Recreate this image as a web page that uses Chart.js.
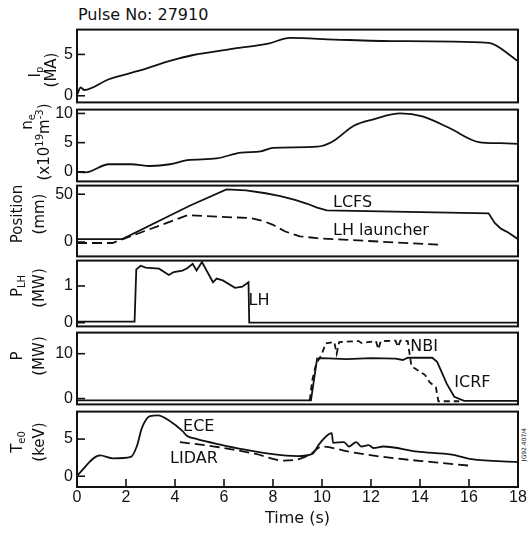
<!DOCTYPE html>
<html>
<head>
<meta charset="utf-8">
<title>Pulse No: 27910</title>
<script src="https://cdn.jsdelivr.net/npm/chart.js@4.4.1/dist/chart.umd.min.js"></script>
<style>
  html, body { margin: 0; padding: 0; background: #fff; }
  body { position: relative; width: 529px; height: 534px; overflow: hidden; font-family: "DejaVu Sans", sans-serif; color: #111; }
  .panel { position: absolute; left: 0; width: 529px; }
  #pulse { position: absolute; left: 78px; top: 6px; font-size: 16px; line-height: 18px; }
  #code { position: absolute; left: 496px; top: 441px; width: 54px; font-size: 6px; text-align: center; transform: rotate(-90deg); }
</style>
</head>
<body>
<div id="pulse">Pulse No: 27910</div>
<div id="code">JG92.407/4</div>

<script>
// time axis (s)
const timeTicks = [0, 2, 4, 6, 8, 10, 12, 14, 16, 18];

// plasma current Ip (MA)
const ipTicks = [0, 5];
const ipPoints = [[0, 0.1], [0.15, 1.0], [0.3, 0.7], [1.3, 2.0], [2.5, 3.0], [3.9, 4.3], [4.7, 4.9],
  [6.4, 5.7], [7.8, 6.3], [8.7, 7.0], [10.5, 6.8], [13, 6.6], [16.8, 6.4], [17.9, 4.4], [18, 4.2]];

// density ne (x10^19 m^-3)
const neTicks = [0, 5, 10];
const nePoints = [[0, 0], [0.35, -0.1], [1.3, 1.3], [2.2, 1.3], [3.0, 1.0], [3.8, 1.3], [4.5, 2.0],
  [5.7, 2.3], [6.7, 3.3], [7.5, 3.5], [8.0, 4.1], [9.8, 4.3], [10.4, 5.1], [11.3, 7.9], [12.1, 9.0],
  [13.2, 10.0], [14.1, 9.5], [15.2, 7.5], [16.4, 5.1], [17.3, 4.9], [18, 4.8]];

// position (mm)
const posTicks = [0, 50];
const lcfsPoints = [[0, 3], [1.85, 3], [4.6, 38], [6.1, 55], [6.9, 54], [7.7, 51], [8.3, 48], [8.9, 44],
  [9.4, 40], [9.8, 36], [10.2, 33], [16.8, 30], [17.05, 20], [17.3, 14], [17.6, 10], [18, 3]];
const launcherPoints = [[0, -1], [1.45, -1], [4.5, 28], [7.1, 25], [7.6, 22], [8.0, 18], [8.5, 11],
  [9.1, 6], [9.8, 4], [10.5, 3], [14.9, -3]];

// LH power (MW)
const plhTicks = [0, 1];
const plhPoints = [[0, 0.03], [2.35, 0.03], [2.42, 1.45], [2.6, 1.55], [2.8, 1.5], [3.35, 1.47], [3.75, 1.3],
  [3.95, 1.38], [4.3, 1.42], [4.5, 1.48], [4.72, 1.6], [4.88, 1.42], [5.1, 1.65], [5.55, 1.1], [5.7, 1.2],
  [5.95, 1.15], [6.45, 0.95], [6.75, 0.98], [7.0, 1.1], [7.03, 0.0], [18, 0.0]];

// ICRF and NBI power (MW)
const pTicks = [0, 10];
const icrfPoints = [[0, -0.4], [9.55, -0.4], [9.8, 8.9], [10.0, 9.0], [11, 8.8], [12, 9.0], [13, 8.9],
  [13.3, 8.6], [13.5, 9.1], [14.5, 9.1], [14.7, 8.2], [15.1, 3.2], [15.4, 0.4], [15.8, -0.5], [18, -0.5]];
const nbiPoints = [[9.5, -0.4], [9.6, 4], [9.75, 7.5], [10.0, 10], [10.15, 12.3], [10.5, 12.6], [10.6, 10],
  [10.7, 12.6], [11.5, 12.8], [11.6, 12.4], [12.2, 12.8], [12.3, 11], [12.4, 12.8], [13.0, 12.9],
  [13.1, 11.5], [13.2, 12.9], [13.5, 12.8], [13.65, 7.2], [14.2, 5.3], [14.4, 3.6], [14.65, 2.5],
  [14.75, -0.6], [15.6, -0.6]];

// central electron temperature Te0 (keV)
const teTicks = [0, 5];
const ecePoints = [[0, 0.1], [0.94, 2.8], [1.47, 2.4], [2.2, 2.6], [2.45, 4.1], [2.65, 6.5], [2.98, 8.1],
  [3.3, 8.2], [3.8, 7.4], [4.3, 6.1], [4.5, 5.4], [4.9, 5.0], [5.8, 4.3], [6.8, 3.6], [7.9, 3.0],
  [9.0, 2.7], [9.6, 3.0], [9.9, 4.4], [10.4, 5.8], [10.45, 4.5], [10.9, 4.6], [11.1, 4.0], [11.4, 4.6],
  [11.6, 4.0], [11.9, 4.2], [12.1, 3.8], [12.5, 4.0], [13.9, 3.3], [15.3, 2.9], [16.1, 2.3], [18, 1.9]];
const lidarPoints = [[4.2, 4.6], [5.8, 3.9], [7.3, 3.0], [8.4, 2.1], [8.9, 2.2], [9.5, 2.9], [10.0, 4.0],
  [11.1, 3.3], [12.5, 2.6], [14.5, 1.9], [16.1, 1.4]];

const ink = '#111';
const FONT = '"DejaVu Sans", sans-serif';
const TICK_FONT = '"Liberation Sans", Arial, sans-serif';
const MARGIN = 12;     // canvas overhang above/below each panel
const AXIS_W = 77;     // left gutter (y labels)

const line = (pts, opts = {}) => ({
  data: pts.map(([x, y]) => ({ x, y })),
  borderColor: ink,
  borderWidth: 1.8,
  borderDash: opts.dash || [],
  cubicInterpolationMode: opts.smooth ? 'monotone' : 'default',
  tension: 0,
  pointRadius: 0,
  fill: false
});

const sub = t => ({ t, small: true, dy: 4 });
const sup = t => ({ t, small: true, dy: -5 });

// panel layout: page pixels of each frame and the value range they show
const panels = [
  { top: 28, bottom: 104, min: -0.8, max: 8.0, ticks: ipTicks,
    datasets: [line(ipPoints, { smooth: true })],
    title: [{ x: 36, cy: 72, parts: [{ t: 'I' }, sub('p')] }, { x: 52, cy: 70, parts: [{ t: '(MA)' }] }],
    notes: [] },
  { top: 108, bottom: 183, min: -1.64, max: 10.66, ticks: neTicks,
    datasets: [line(nePoints, { smooth: true })],
    title: [{ x: 28, cy: 122, parts: [{ t: 'n' }, sub('e')] },
            { x: 45, cy: 142, parts: [{ t: '(x10' }, sup('19'), { t: 'm' }, sup('-3'), { t: ')' }] }],
    notes: [] },
  { top: 184, bottom: 258, min: -15, max: 59, ticks: posTicks,
    datasets: [line(lcfsPoints), line(launcherPoints, { dash: [10, 5] })],
    title: [{ x: 18, cy: 214, parts: [{ t: 'Position' }] }, { x: 40, cy: 214, parts: [{ t: '(mm)' }] }],
    notes: [{ text: 'LCFS', t: 10.45, v: 41 }, { text: 'LH launcher', t: 10.45, v: 12 }] },
  { top: 259, bottom: 328, min: -0.1, max: 1.69, ticks: plhTicks,
    datasets: [line(plhPoints)],
    title: [{ x: 18, cy: 286, parts: [{ t: 'P' }, sub('LH')] }, { x: 40, cy: 288, parts: [{ t: '(MW)' }] }],
    notes: [{ text: 'LH', t: 7.0, v: 0.59 }] },
  { top: 331, bottom: 406, min: -1.3, max: 14.7, ticks: pTicks,
    datasets: [line(icrfPoints), line(nbiPoints, { dash: [6, 4] })],
    title: [{ x: 18, cy: 356, parts: [{ t: 'P' }] }, { x: 40, cy: 356, parts: [{ t: '(MW)' }] }],
    notes: [{ text: 'NBI', t: 13.6, v: 11.5 }, { text: 'ICRF', t: 15.4, v: 3.4 }] },
  { top: 410, bottom: 487, min: -1.45, max: 8.7, ticks: teTicks, bottomAxis: true,
    datasets: [line(ecePoints, { smooth: true }), line(lidarPoints, { smooth: true, dash: [10, 5] })],
    title: [{ x: 18, cy: 442, parts: [{ t: 'T' }, sub('e0')] }, { x: 40, cy: 442, parts: [{ t: '(keV)' }] }],
    notes: [{ text: 'ECE', t: 4.33, v: 6.7 }, { text: 'LIDAR', t: 3.8, v: 2.4 }] }
];

// rotated axis title with sub/superscripts
function drawRotated(ctx, cx, cy, parts, size) {
  const fontFor = p => `${p.small ? Math.round(size * 0.68) : size}px ${FONT}`;
  ctx.save();
  ctx.translate(cx, cy);
  ctx.rotate(-Math.PI / 2);
  ctx.textBaseline = 'middle';
  ctx.textAlign = 'left';
  let total = 0;
  parts.forEach(p => { ctx.font = fontFor(p); total += ctx.measureText(p.t).width; });
  let px = -total / 2;
  parts.forEach(p => {
    ctx.font = fontFor(p);
    ctx.fillText(p.t, px, p.dy || 0);
    px += ctx.measureText(p.t).width;
  });
  ctx.restore();
}

// frame, inside tick marks, annotations and axis titles
function decor(p) {
  return {
    id: 'decor',
    afterDraw(chart) {
      const { ctx, chartArea: a, scales: { x, y } } = chart;
      const top = chart.canvas.parentNode.offsetTop;
      ctx.save();
      ctx.strokeStyle = ink;
      ctx.lineWidth = 2;
      ctx.strokeRect(a.left, a.top, a.right - a.left, a.bottom - a.top);
      ctx.lineWidth = 1.6;
      p.ticks.forEach(v => {
        const py = y.getPixelForValue(v);
        ctx.beginPath(); ctx.moveTo(a.left, py); ctx.lineTo(a.left + 8, py); ctx.stroke();
      });
      if (p.bottomAxis) {
        timeTicks.slice(1, -1).forEach(t => {
          const px = x.getPixelForValue(t);
          ctx.beginPath(); ctx.moveTo(px, a.bottom); ctx.lineTo(px, a.bottom - 8); ctx.stroke();
        });
      }
      ctx.fillStyle = ink;
      ctx.font = `16px ${FONT}`;
      ctx.textBaseline = 'middle';
      ctx.textAlign = 'left';
      p.notes.forEach(n => ctx.fillText(n.text, x.getPixelForValue(n.t), y.getPixelForValue(n.v)));
      p.title.forEach(c => drawRotated(ctx, c.x, c.cy - top, c.parts, 15));
      ctx.restore();
    }
  };
}

panels.forEach(p => {
  const wrap = document.createElement('div');
  wrap.className = 'panel';
  const canvasTop = p.top - MARGIN;
  const height = p.bottomAxis ? 534 - canvasTop : (p.bottom - p.top) + 2 * MARGIN;
  wrap.style.top = canvasTop + 'px';
  wrap.style.height = height + 'px';
  const canvas = document.createElement('canvas');
  wrap.appendChild(canvas);
  document.body.appendChild(wrap);

  const xAxis = {
    type: 'linear', min: 0, max: 18,
    display: !!p.bottomAxis,
    afterBuildTicks: s => { s.ticks = timeTicks.map(v => ({ value: v })); },
    grid: { display: false, drawTicks: false },
    border: { display: false },
    ticks: { autoSkip: false, maxRotation: 0, padding: 1, color: ink, font: { family: TICK_FONT, size: 16 } },
    title: { display: true, text: 'Time (s)', color: ink, font: { family: FONT, size: 16 }, padding: { top: 0, bottom: 6 } }
  };
  if (p.bottomAxis) xAxis.afterFit = s => { s.height = 534 - p.bottom; };

  new Chart(canvas, {
    type: 'line',
    data: { datasets: p.datasets },
    plugins: [decor(p)],
    options: {
      responsive: true,
      maintainAspectRatio: false,
      animation: false,
      layout: { padding: { left: 0, right: 11, top: MARGIN, bottom: p.bottomAxis ? 0 : MARGIN } },
      plugins: { legend: { display: false }, tooltip: { enabled: false } },
      scales: {
        x: xAxis,
        y: {
          type: 'linear', min: p.min, max: p.max,
          afterBuildTicks: s => { s.ticks = p.ticks.map(v => ({ value: v })); },
          afterFit: s => { s.width = AXIS_W; },
          grid: { display: false, drawTicks: false },
          border: { display: false },
          ticks: { autoSkip: false, padding: 4, color: ink, font: { family: TICK_FONT, size: 16 } }
        }
      }
    }
  });
});
</script>
</body>
</html>
